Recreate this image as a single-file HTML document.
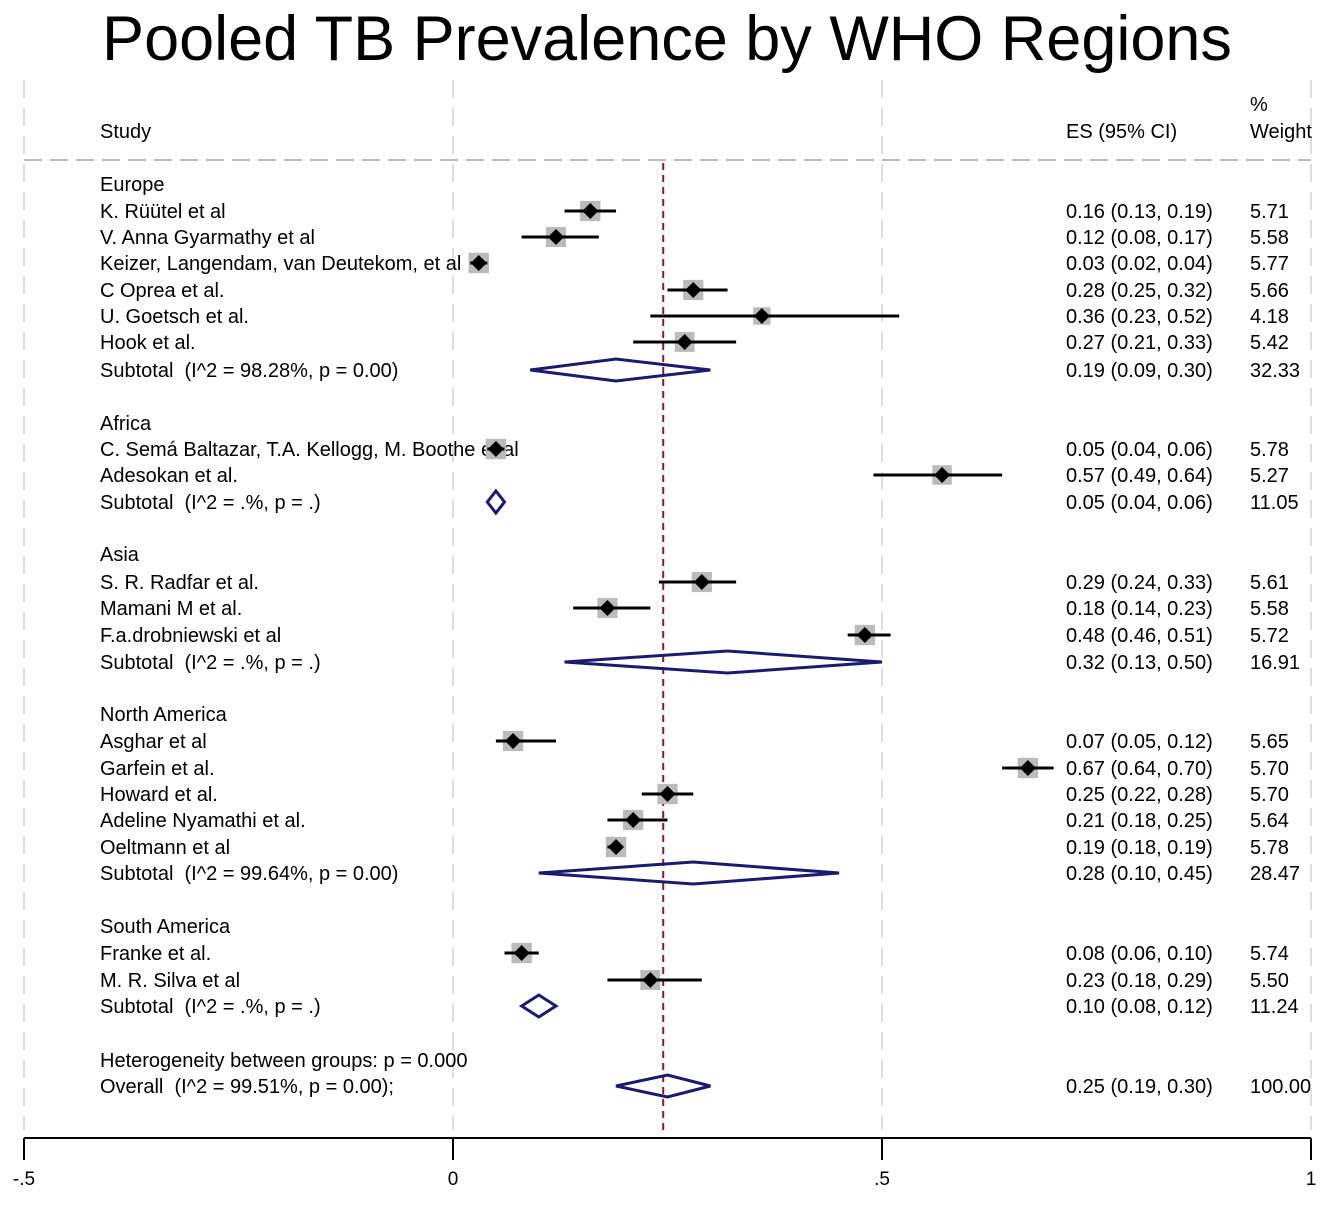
<!DOCTYPE html>
<html><head><meta charset="utf-8"><style>
body{margin:0;background:#fff;}
svg text{font-family:"Liberation Sans",sans-serif;white-space:pre;}
</style></head><body>
<svg id="c" width="1325" height="1203" xmlns="http://www.w3.org/2000/svg">
<text x="667" y="60" font-size="63" text-anchor="middle">Pooled TB Prevalence by WHO Regions</text>
<g id="grid"></g>
<line x1="24" y1="160" x2="1311" y2="160" stroke="#bbb" stroke-width="2" stroke-dasharray="18,8"/>
<text x="100" y="138" font-size="20">Study</text>
<text x="1066" y="138" font-size="20">ES (95% CI)</text>
<text x="1250" y="111" font-size="20">%</text>
<text x="1250" y="138" font-size="20">Weight</text>
<g id="rows"></g>
<g id="axis"></g>
</svg>
<script>
const labels=["Europe","K. Rüütel et al","V. Anna Gyarmathy et al","Keizer, Langendam, van Deutekom, et al","C Oprea et al.","U. Goetsch et al.","Hook et al.","Subtotal  (I^2 = 98.28%, p = 0.00)",
"Africa","C. Semá Baltazar, T.A. Kellogg, M. Boothe et al","Adesokan et al.","Subtotal  (I^2 = .%, p = .)",
"Asia","S. R. Radfar et al.","Mamani M et al.","F.a.drobniewski et al","Subtotal  (I^2 = .%, p = .)",
"North America","Asghar et al","Garfein et al.","Howard et al.","Adeline Nyamathi et al.","Oeltmann et al","Subtotal  (I^2 = 99.64%, p = 0.00)",
"South America","Franke et al.","M. R. Silva et al","Subtotal  (I^2 = .%, p = .)",
"Heterogeneity between groups: p = 0.000","Overall  (I^2 = 99.51%, p = 0.00);"];
const kinds=["h","s","s","s","s","s","s","d","h","s","s","d","h","s","s","s","d","h","s","s","s","s","s","d","h","s","s","d","h","d"];
const rowY=[184,211,237,263,290,316,342,370,423,449,475,502,554,582,608,635,662,714,741,768,794,820,847,873,926,953,980,1006,1060,1086];
const es=[null,0.16,0.12,0.03,0.28,0.36,0.27,0.19,null,0.05,0.57,0.05,null,0.29,0.18,0.48,0.32,null,0.07,0.67,0.25,0.21,0.19,0.28,null,0.08,0.23,0.10,null,0.25];
const lo=[null,0.13,0.08,0.02,0.25,0.23,0.21,0.09,null,0.04,0.49,0.04,null,0.24,0.14,0.46,0.13,null,0.05,0.64,0.22,0.18,0.18,0.10,null,0.06,0.18,0.08,null,0.19];
const hi=[null,0.19,0.17,0.04,0.32,0.52,0.33,0.30,null,0.06,0.64,0.06,null,0.33,0.23,0.51,0.50,null,0.12,0.70,0.28,0.25,0.19,0.45,null,0.10,0.29,0.12,null,0.30];
const wt=[null,5.71,5.58,5.77,5.66,4.18,5.42,32.33,null,5.78,5.27,11.05,null,5.61,5.58,5.72,16.91,null,5.65,5.70,5.70,5.64,5.78,28.47,null,5.74,5.50,11.24,null,100.00];
const ticks=[-0.5,0,0.5,1];
const tickLabels=["-.5","0",".5","1"];
const overallES=0.245;
const NS="http://www.w3.org/2000/svg";
const X=v=>453+v*858;
function mk(parent,tag,attrs,txt){const e=document.createElementNS(NS,tag);for(const k in attrs)e.setAttribute(k,attrs[k]);if(txt!=null)e.textContent=txt;document.getElementById(parent).appendChild(e);return e;}
ticks.forEach((t,i)=>{
 const g=mk("grid","line",{x1:X(t),x2:X(t),y1:80,y2:1130,stroke:"#ddd","stroke-width":2,"stroke-dasharray":"18,10"});
 
 
 const tk=mk("axis","line",{x1:X(t),x2:X(t),y1:1138,y2:1160,stroke:"#000","stroke-width":2});
 
 
 const tl=mk("axis","text",{x:X(t),y:1185,"font-size":19,"text-anchor":"middle"},tickLabels[i]);
 
 
});
const ax=mk("axis","line",{x1:X(-0.5),x2:X(1),y1:1138,y2:1138,stroke:"#000","stroke-width":2});


const ol=mk("grid","line",{x1:X(overallES),x2:X(overallES),y1:163,y2:1130,stroke:"#8b1a2a","stroke-width":2,"stroke-dasharray":"7,5"});


labels.forEach((l,i)=>{
 const y=rowY[i];
 const t=mk("rows","text",{x:100,y:y+7,"font-size":20},l);
 
 
 if(es[i]==null)return;
 const vals=mk("rows","text",{x:1066,y:y+7,"font-size":20},es[i].toFixed(2)+" ("+lo[i].toFixed(2)+", "+hi[i].toFixed(2)+")");
 
 
 const w=mk("rows","text",{x:1250,y:y+7,"font-size":20},wt[i].toFixed(2));
 
 
 if(kinds[i]==="s"){
  const s=Math.sqrt(wt[i])*8.5;
  const b=mk("rows","rect",{x:X(es[i])-s/2,y:y-s/2,width:s,height:s,fill:"#bbb"});
  
  
  const ci=mk("rows","line",{x1:X(lo[i]),x2:X(hi[i]),y1:y,y2:y,stroke:"#000","stroke-width":3});
  
  
  const cx=X(es[i]);
  const p=mk("rows","polygon",{points:`${cx-8},${y} ${cx},${y-8} ${cx+8},${y} ${cx},${y+8}`,fill:"#000"});
  
  
 } else {
  const a=X(lo[i]),b=X(es[i]),c=X(hi[i]);
  const d=mk("rows","polygon",{points:`${a},${y} ${b},${y-11} ${c},${y} ${b},${y+11}`,fill:"none",stroke:"#1a1a6e","stroke-width":3});
  
  
 }
});
</script>
</body></html>
